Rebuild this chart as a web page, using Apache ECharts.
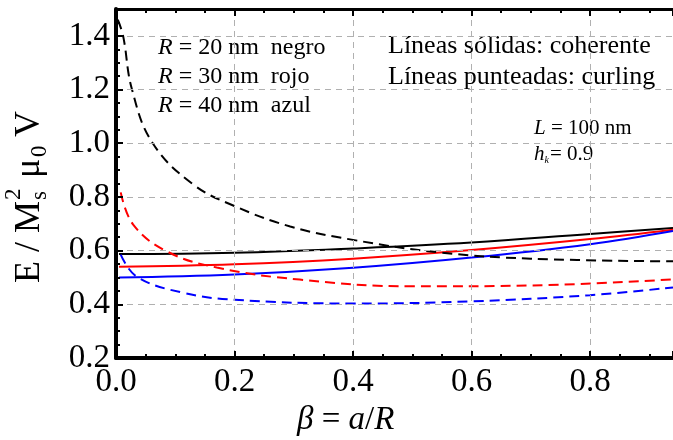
<!DOCTYPE html>
<html>
<head>
<meta charset="utf-8">
<script src="https://cdn.jsdelivr.net/npm/echarts@6/dist/echarts.min.js"></script>
<style>
html,body{margin:0;padding:0;background:#fff;}
#chart{width:673px;height:440px;}
</style>
</head>
<body>
<div id="chart"></div>
<script>
// axis ranges
var xMin = 0, xMax = 0.94, xStep = 0.2;
var yMin = 0.2, yMax = 1.5, yStep = 0.2;

// lineas solidas (coherente)
var solidX   = [0.005, 0.2, 0.4, 0.6, 0.8, 0.94];
var cohR20   = [0.587, 0.592, 0.608, 0.630, 0.662, 0.684];
var cohR30   = [0.540, 0.549, 0.570, 0.602, 0.643, 0.678];
var cohR40   = [0.500, 0.511, 0.536, 0.574, 0.624, 0.673];

// lineas punteadas (curling)
var curlR20X = [0.003, 0.012, 0.027, 0.062, 0.13, 0.2, 0.294, 0.4, 0.547, 0.7, 0.94];
var curlR20  = [1.46, 1.40, 1.20, 1.00, 0.847, 0.766, 0.690, 0.640, 0.593, 0.570, 0.560];
var curlR30X = [0.008, 0.029, 0.086, 0.17, 0.31, 0.5, 0.7, 0.94];
var curlR30  = [0.817, 0.697, 0.597, 0.537, 0.492, 0.467, 0.470, 0.493];
var curlR40X = [0.008, 0.035, 0.113, 0.2, 0.4, 0.6, 0.8, 0.94];
var curlR40  = [0.585, 0.503, 0.443, 0.417, 0.403, 0.411, 0.434, 0.463];

function pairs(xs, ys){
    var out = [];
    for (var i = 0; i < xs.length; i++) out.push([xs[i], ys[i]]);
    return out;
}

// solo etiquetas en multiplos de 0.2
function tickLabel(v){
    var k = v / 0.2;
    return Math.abs(k - Math.round(k)) < 1e-6 ? v.toFixed(1) : '';
}

var serif = '"Liberation Serif", "DejaVu Serif", serif';
var frame = '#000000';

function line(name, xs, ys, color, dashed){
    return {
        name: name,
        type: 'line',
        data: pairs(xs, ys),
        smooth: 0.4,
        showSymbol: false,
        z: 2,
        lineStyle: {color: color, width: 2, type: dashed ? [10, 6] : 'solid'}
    };
}

var chart = echarts.init(document.getElementById('chart'));
var option = {
    animation: false,
    grid: {left: 116, top: 9, right: 0, bottom: 82, outerBoundsMode: 'none'},
    xAxis: [{
        type: 'value', min: xMin, max: xMax, interval: xStep, position: 'bottom', z: 5,
        axisLine: {show: true, onZero: false, lineStyle: {color: frame, width: 4}},
        axisTick: {show: true, inside: true, length: 7, lineStyle: {color: frame, width: 2}},
        minorTick: {show: true, splitNumber: 4, length: 4, lineStyle: {color: frame, width: 2}},
        axisLabel: {show: true, margin: 8, color: '#000', fontFamily: serif, fontSize: 33, formatter: tickLabel},
        splitLine: {show: true, lineStyle: {color: '#b0b0b0', width: 1, type: [6, 5]}}
    }, {
        type: 'value', min: xMin, max: xMax, interval: xStep, position: 'top', z: 5,
        axisLine: {show: true, onZero: false, lineStyle: {color: frame, width: 3}},
        axisTick: {show: true, inside: true, length: 7, lineStyle: {color: frame, width: 2}},
        minorTick: {show: true, splitNumber: 4, length: 4, lineStyle: {color: frame, width: 2}},
        axisLabel: {show: false},
        splitLine: {show: false}
    }],
    yAxis: {
        type: 'value', min: yMin, max: yMax, interval: yStep, z: 5,
        axisLine: {show: true, onZero: false, lineStyle: {color: frame, width: 4}},
        axisTick: {show: true, inside: true, length: 7, lineStyle: {color: frame, width: 2}},
        minorTick: {show: true, splitNumber: 4, length: 4, lineStyle: {color: frame, width: 2}},
        axisLabel: {show: true, margin: 6, color: '#000', fontFamily: serif, fontSize: 33, formatter: tickLabel},
        splitLine: {show: true, lineStyle: {color: '#b0b0b0', width: 1, type: [6, 5]}}
    },
    series: [
        line('R20 coherente', solidX, cohR20, '#000000', false),
        line('R30 coherente', solidX, cohR30, '#ff0000', false),
        line('R40 coherente', solidX, cohR40, '#0000ff', false),
        line('R20 curling', curlR20X, curlR20, '#000000', true),
        line('R30 curling', curlR30X, curlR30, '#ff0000', true),
        line('R40 curling', curlR40X, curlR40, '#0000ff', true)
    ],
    graphic: [
        // eje y: E / M_s^2 mu_0 V
        {
            type: 'group', x: 30, y: 283, rotation: Math.PI / 2,
            children: [
                {type: 'text', x: 0, y: 0, style: {text: 'E / M', fill: '#000', font: '36px ' + serif, verticalAlign: 'middle'}},
                {type: 'text', x: 83, y: 10, style: {text: 's', fill: '#000', font: '23px ' + serif, verticalAlign: 'middle'}},
                {type: 'text', x: 83, y: -16, style: {text: '2', fill: '#000', font: '23px ' + serif, verticalAlign: 'middle'}},
                {type: 'text', x: 96, y: 0, style: {text: ' \u03bc', fill: '#000', font: '36px ' + serif, verticalAlign: 'middle'}},
                {type: 'text', x: 126, y: 10, style: {text: '0', fill: '#000', font: '23px ' + serif, verticalAlign: 'middle'}},
                {type: 'text', x: 137, y: 0, style: {text: ' V', fill: '#000', font: '36px ' + serif, verticalAlign: 'middle'}}
            ]
        },
        // eje x: beta = a/R
        {
            type: 'text', left: 297, top: 404,
            style: {
                text: '{i|\u03b2}{n| = }{i|a}{n|/}{i|R}',
                rich: {
                    i: {fontFamily: serif, fontSize: 33, fontStyle: 'italic', fill: '#000'},
                    n: {fontFamily: serif, fontSize: 33, fill: '#000'}
                }
            }
        },
        {
            type: 'text', left: 158, top: 36,
            style: {
                text: '{i|R}{n| = 20 nm  negro}\n{i|R}{n| = 30 nm  rojo}\n{i|R}{n| = 40 nm  azul}',
                rich: {
                    i: {fontFamily: serif, fontSize: 24, fontStyle: 'italic', fill: '#000', lineHeight: 29},
                    n: {fontFamily: serif, fontSize: 24, fill: '#000', lineHeight: 29}
                }
            }
        },
        {
            type: 'text', left: 388, top: 31,
            style: {
                text: 'L\u00edneas s\u00f3lidas: coherente\nL\u00edneas punteadas: curling',
                fontFamily: serif, fontSize: 26, lineHeight: 31, fill: '#000'
            }
        },
        {
            type: 'text', left: 534, top: 118,
            style: {
                text: '{i|L}{n| = 100 nm}',
                rich: {
                    i: {fontFamily: serif, fontSize: 21, fontStyle: 'italic', fill: '#000'},
                    n: {fontFamily: serif, fontSize: 21, fill: '#000'}
                }
            }
        },
        {
            type: 'text', left: 534, top: 144,
            style: {
                text: '{i|h}{k|k}{n|= 0.9}',
                rich: {
                    i: {fontFamily: serif, fontSize: 21, fontStyle: 'italic', fill: '#000', verticalAlign: 'bottom'},
                    k: {fontFamily: serif, fontSize: 10, fontStyle: 'italic', fill: '#000', verticalAlign: 'bottom', padding: [0, 1, 0, 0]},
                    n: {fontFamily: serif, fontSize: 21, fill: '#000', verticalAlign: 'bottom'}
                }
            }
        }
    ]
};
chart.setOption(option);
</script>
</body>
</html>
